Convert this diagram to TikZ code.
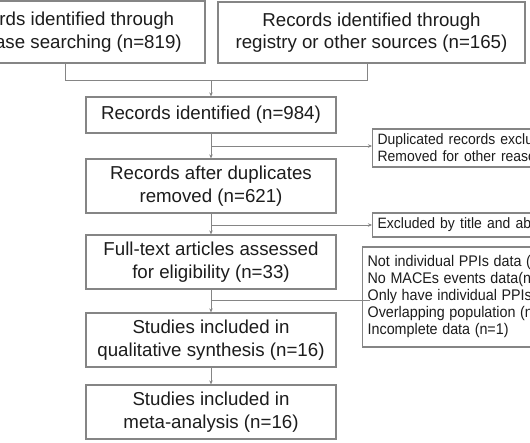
\documentclass[tikz,border=0pt]{standalone}
\usepackage{fontspec}
\setmainfont{Liberation Sans}
\newfontfamily\sidefont[FakeStretch=0.93]{Liberation Sans}
\usetikzlibrary{arrows.meta,calc}
\definecolor{bordergray}{HTML}{858585}
\definecolor{txt}{HTML}{1C1C1C}
\newcommand{\wideA}{\spaceskip=5.2pt plus 1pt minus 1pt\relax}
\newcommand{\wideB}{\spaceskip=4.6pt plus 1pt minus 1pt\relax}
\tikzset{
  mainbox/.style={draw=bordergray, line width=1.3pt, text=txt, align=center, inner sep=0pt,
    minimum width=250pt, font=\fontsize{18.7}{22.5}\selectfont},
  sidebox/.style={draw=bordergray, line width=1.3pt, text=txt, align=left, anchor=west,
    inner xsep=5pt, inner ysep=0pt, minimum width=260pt, text width=250pt,
    font=\sidefont\fontsize{15}{17}\selectfont},
  conn/.style={draw=bordergray, line width=1pt},
  arr/.style={conn, -{Stealth[length=4pt,width=3.5pt]}},
}
\begin{document}
\begin{tikzpicture}[x=1pt,y=1pt]
\useasboundingbox (0,0) rectangle (530,-442);
\fill[white] (0,0) rectangle (530,-442);
\clip (0,0) rectangle (530,-442);

% top boxes
\node[mainbox, minimum width=280pt, minimum height=62pt] (b1) at (65,-32)
  {Records identified through\\database searching (n=819)};
\node[mainbox, minimum width=307pt, minimum height=61pt] (b2) at (371.5,-32.5)
  {Records identified through\\registry or other sources (n=165)};

% main column
\node[mainbox, minimum height=36pt] (b3) at (211,-115) {Records identified (n=984)};
\node[mainbox, minimum height=54pt] (b4) at (211,-186) {Records after duplicates\\removed (n=621)};
\node[mainbox, minimum height=54pt] (b5) at (211,-262) {Full-text articles assessed\\for eligibility (n=33)};
\node[mainbox, minimum height=54pt] (b7) at (211,-340) {Studies included in\\qualitative synthesis (n=16)};
\node[mainbox, minimum height=54pt] (b8) at (211,-412) {Studies included in\\meta-analysis (n=16)};

% side boxes
\node[sidebox, minimum height=38pt] (s1) at (372,-148)
  {\wideA Duplicated records excluded\\\wideA Removed for other reasons};
\node[sidebox, minimum height=24pt] (s2) at (372,-225)
  {\wideA Excluded by title and abstract (n=588)};
\node[sidebox, minimum height=100pt, inner xsep=4pt, font=\sidefont\fontsize{15.4}{17}\selectfont] (s3) at (362,-297)
  {\wideB Not individual PPIs data (n\\\wideB No MACEs events data(n\\\wideB Only have individual PPIs\\\wideB Overlapping population (n\\\wideB Incomplete data (n=1)};

% junctions
\coordinate (d2) at (367,-80);
\coordinate (j1) at (211,-80);
\coordinate (j2) at (211,-146);
\coordinate (j3) at (211,-225);
\coordinate (j4) at (211,-300);
\coordinate (e3) at (370,-300);

% connectors
\draw[conn] (b1.south) |- (j1);
\draw[conn] (b2.south -| d2) -- (d2) -- (j1);
\draw[arr] (j1) -- (b3.north);
\draw[arr] (b3.south) -- (b4.north);
\draw[arr] (j2) -- (s1.west |- j2);
\draw[arr] (b4.south) -- (b5.north);
\draw[arr] (j3) -- (s2.west |- j3);
\draw[arr] (b5.south) -- (b7.north);
\draw[conn] (j4) -- (e3);
\draw[arr] (b7.south) -- (b8.north);
\end{tikzpicture}
\end{document}
